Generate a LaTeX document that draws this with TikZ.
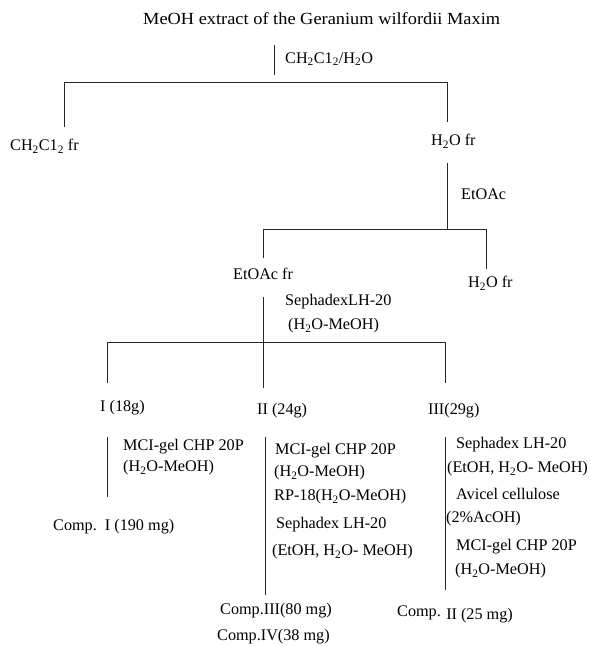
\documentclass[tikz,border=0pt]{standalone}
\usepackage{fontspec}
\setmainfont{Liberation Serif}
\newcommand{\sbs}[1]{\textsubscript{#1}}
\begin{document}
\begin{tikzpicture}[x=1pt,y=-1pt,
  txt/.style={inner sep=0pt,anchor=west,font=\fontsize{16.2}{19}\selectfont},
  ln/.style={line width=0.9pt,draw=black!85}]
\useasboundingbox (0,0) rectangle (595,646);
% top
\node[txt,font=\fontsize{17}{20}\selectfont,xscale=1.08] (title) at (143,19) {MeOH extract of the Geranium wilfordii Maxim};
\coordinate (a1) at (274,45); \coordinate (a2) at (274,75);
\draw[ln] (a1) -- (a2);
\node[txt] (s1) at (285,59) {CH\sbs{2}C1\sbs{2}/H\sbs{2}O};
\coordinate (b1) at (64,127); \coordinate (b2) at (64,82);
\coordinate (b3) at (447,82); \coordinate (b4) at (447,122);
\draw[ln] (b1) -- (b2) -- (b3) -- (b4);
\node[txt] (ch) at (10,146) {CH\sbs{2}C1\sbs{2} fr};
\node[txt] (h1) at (431,141) {H\sbs{2}O fr};
% EtOAc partition
\coordinate (c1) at (447,163); \coordinate (c2) at (447,229);
\draw[ln] (c1) -- (c2);
\node[txt] (e1) at (461,194) {EtOAc};
\coordinate (d1) at (263,258); \coordinate (d2) at (263,229);
\coordinate (d3) at (486,229); \coordinate (d4) at (486,269);
\draw[ln] (d1) -- (d2) -- (d3) -- (d4);
\node[txt] (ef) at (233,274) {EtOAc fr};
\node[txt] (h2) at (468,283) {H\sbs{2}O fr};
% Sephadex
\coordinate (f1) at (263,297); \coordinate (f2) at (263,342); \coordinate (f3) at (263,388);
\draw[ln] (f1) -- (f3);
\node[txt] (sp) at (285,302) {SephadexLH-20};
\node[txt] (hm) at (288,326) {(H\sbs{2}O-MeOH)};
\coordinate (g1) at (107,383); \coordinate (g2) at (107,342);
\coordinate (g3) at (445,342); \coordinate (g4) at (445,383);
\draw[ln] (g1) -- (g2) -- (g3) -- (g4);
% fractions
\node[txt] (fI) at (100,408) {I (18g)};
\node[txt] (fII) at (257,411) {II (24g)};
\node[txt] (fIII) at (428,411) {III(29g)};
% column 1
\coordinate (p1) at (107,437); \coordinate (p2) at (107,497);
\draw[ln] (p1) -- (p2);
\node[txt] (m1) at (123,447) {MCI-gel CHP 20P};
\node[txt] (m1b) at (123,468) {(H\sbs{2}O-MeOH)};
\node[txt] (cI) at (53,527) {Comp.~~I (190 mg)};
% column 2
\coordinate (q1) at (265,437); \coordinate (q2) at (265,595);
\draw[ln] (q1) -- (q2);
\node[txt] (m2) at (275,451) {MCI-gel CHP 20P};
\node[txt] (m2b) at (274,473) {(H\sbs{2}O-MeOH)};
\node[txt] (rp) at (274,497) {RP-18(H\sbs{2}O-MeOH)};
\node[txt] (sx2) at (276,525) {Sephadex LH-20};
\node[txt] (et2) at (272,552) {(EtOH, H\sbs{2}O- MeOH)};
\node[txt] (cIII) at (220,611) {Comp.III(80 mg)};
\node[txt] (cIV) at (217,637) {Comp.IV(38 mg)};
% column 3
\coordinate (r1) at (445,437); \coordinate (r2) at (445,590);
\draw[ln] (r1) -- (r2);
\node[txt] (sx3) at (456,445) {Sephadex LH-20};
\node[txt] (et3) at (447,469) {(EtOH, H\sbs{2}O- MeOH)};
\node[txt] (av) at (456,494) {Avicel cellulose};
\node[txt] (ac) at (446,519) {(2\%AcOH)};
\node[txt] (m3) at (456,547) {MCI-gel CHP 20P};
\node[txt] (m3b) at (455,571) {(H\sbs{2}O-MeOH)};
\node[txt] (cII) at (397,614) {Comp. \raisebox{-3pt}{II (25 mg)}};
\end{tikzpicture}
\end{document}
